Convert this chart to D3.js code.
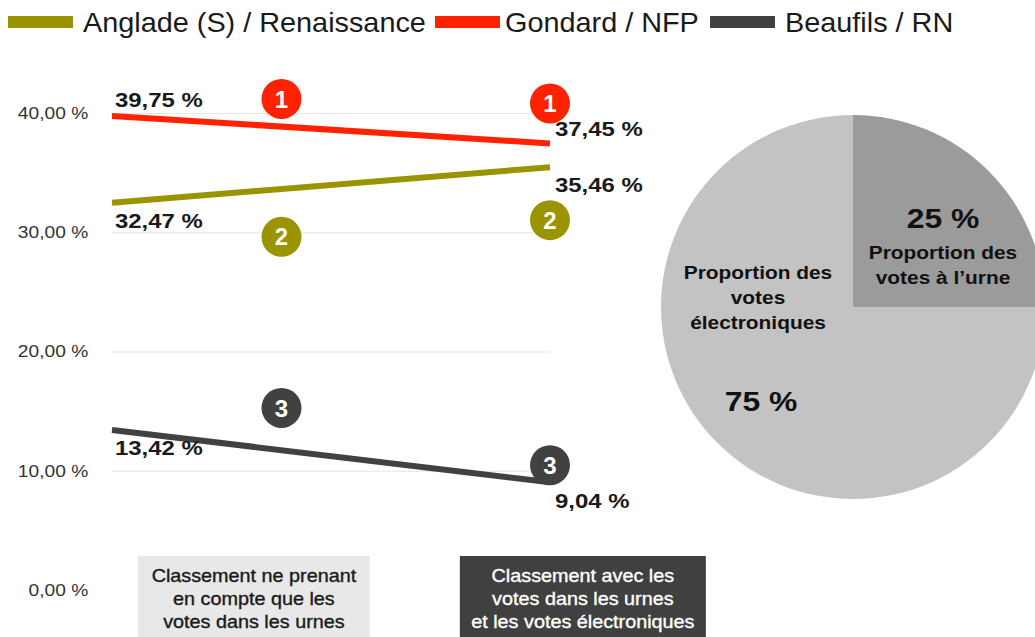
<!DOCTYPE html>
<html>
<head>
<meta charset="utf-8">
<script src="https://cdn.jsdelivr.net/npm/d3@7"></script>
<style>
  body { margin: 0; background: #fff; }
  svg { display: block; font-family: "Liberation Sans", Arial, Helvetica, sans-serif; }
</style>
</head>
<body>
<div id="container"></div>
<script>
var svgWidth = 1035;
var svgHeight = 637;

// data
var seriesNames = ['Anglade (S) / Renaissance', 'Gondard / NFP', 'Beaufils / RN'];
var urnesOnly = [32.47, 39.75, 13.42];
var urnesEtElec = [35.46, 37.45, 9.04];
var rankUrnes = [2, 1, 3];
var rankTotal = [2, 1, 3];
var columnLabels = [
    ['Classement ne prenant', 'en compte que les', 'votes dans les urnes'],
    ['Classement avec les', 'votes dans les urnes', 'et les votes électroniques']
];
var yTicks = [0, 10, 20, 30, 40];
var pieLabels = [['Proportion des', 'votes à l\u2019urne'], ['Proportion des', 'votes', 'électroniques']];
var pieValues = [25, 75];

var colors = ['#9a9400', '#ff2200', '#414141'];
var pieColors = ['#9b9b9b', '#c3c3c3'];

var svg = d3.select('#container').append('svg')
    .attr('width', svgWidth)
    .attr('height', svgHeight);

var x = d3.scaleLinear().domain([0, 1]).range([112, 550]);
var y = d3.scaleLinear().domain([0, 40]).range([590, 113]);

var frNum = function (v) { return d3.format('.2f')(v).replace('.', ',') + ' %'; };

// the source font is a bit wider than Liberation Sans, so stretch text horizontally
function label(parent, px, py, sx) {
    return parent.append('text')
        .attr('transform', 'translate(' + px + ',' + py + ') scale(' + sx + ',1)');
}

// y axis + grid
var yAxis = svg.append('g')
    .attr('transform', 'translate(' + x(0) + ',0)')
    .call(d3.axisLeft(y).tickValues(yTicks).tickFormat(frNum)
        .tickSize(-(x(1) - x(0))).tickPadding(21));
yAxis.select('.domain').remove();
yAxis.selectAll('.tick line')
    .attr('stroke', '#e6e6e6')
    .attr('stroke-width', 1.2)
    .attr('display', function (d) { return d === 0 ? 'none' : null; });
yAxis.selectAll('.tick text')
    .attr('fill', '#333')
    .attr('transform', 'scale(1.13,1)')
    .style('font-size', '17px')
    .style('font-family', '"Liberation Sans", Arial, sans-serif');

// lines
var lineData = seriesNames.map(function (name, i) {
    return { name: name, color: colors[i], values: [urnesOnly[i], urnesEtElec[i]], ranks: [rankUrnes[i], rankTotal[i]] };
});

var line = d3.line()
    .x(function (d, i) { return x(i); })
    .y(function (d) { return y(d); });

svg.append('g').selectAll('path')
    .data(lineData)
    .enter().append('path')
    .attr('d', function (d) { return line(d.values); })
    .attr('fill', 'none')
    .attr('stroke', function (d) { return d.color; })
    .attr('stroke-width', 6);

// value labels: above for the leader, below for the others
var labelOffset = [[18, 18], [-16, -15], [18, 18]];
var labelX = [3, 5];
lineData.forEach(function (s, i) {
    s.values.forEach(function (v, j) {
        label(svg, x(j) + labelX[j], y(s.values[j]) + labelOffset[i][j], 1.14)
            .attr('dy', '0.35em')
            .attr('font-size', 21)
            .attr('font-weight', 'bold')
            .attr('fill', '#1a1a1a')
            .text(frNum(v));
    });
});

// rank badges
var badgeX = [0.387, 1];
var badgeOffset = [[34, 53], [-17, -40], [-22, -17]];
lineData.forEach(function (s, i) {
    s.ranks.forEach(function (r, j) {
        var g = svg.append('g')
            .attr('transform', 'translate(' + x(badgeX[j]) + ',' + (y(s.values[j]) + badgeOffset[i][j]) + ')');
        g.append('circle').attr('r', 20).attr('fill', s.color);
        g.append('text')
            .attr('text-anchor', 'middle')
            .attr('dy', '0.36em')
            .attr('font-size', 24)
            .attr('font-weight', 'bold')
            .attr('fill', '#fff')
            .text(r);
    });
});

// column boxes
var boxCenter = [0.324, 1.075];
var boxWidth = [232, 246];
var boxFill = ['#e8e8e8', '#404040'];
var boxText = ['#1a1a1a', '#fff'];
columnLabels.forEach(function (lines, j) {
    var cx = x(boxCenter[j]);
    svg.append('rect')
        .attr('x', cx - boxWidth[j] / 2)
        .attr('y', 556)
        .attr('width', boxWidth[j])
        .attr('height', 90)
        .attr('fill', boxFill[j]);
    label(svg, cx, 582, 1.1)
        .attr('text-anchor', 'middle')
        .attr('fill', boxText[j])
        .attr('stroke', boxText[j])
        .attr('stroke-width', 0.35)
        .attr('font-size', 18)
        .selectAll('tspan')
        .data(lines)
        .enter().append('tspan')
        .attr('x', 0)
        .attr('y', function (d, k) { return k * 23; })
        .text(function (d) { return d; });
});

// legend
var legendX = [8, 435, 710];
var legendTextX = [83, 505, 785];
var legend = svg.append('g');
seriesNames.forEach(function (name, i) {
    legend.append('rect')
        .attr('x', legendX[i]).attr('y', 16)
        .attr('width', 65).attr('height', 12)
        .attr('fill', colors[i]);
    label(legend, legendTextX[i], 22, 1.03)
        .attr('dy', '0.35em')
        .attr('font-size', 28)
        .attr('fill', '#1a1a1a')
        .text(name);
});

// pie
var pieR = 192;
var pieG = svg.append('g').attr('transform', 'translate(853,307)');
var pie = d3.pie().sort(null).value(function (d) { return d; });
var arc = d3.arc().innerRadius(0).outerRadius(pieR);
var arcs = pie(pieValues);

pieG.selectAll('path')
    .data(arcs)
    .enter().append('path')
    .attr('d', arc)
    .attr('fill', function (d, i) { return pieColors[i]; });

var pctPos = [[90, -88], [-92, 95]];
var txtPos = [[90, -54], [-95, -34]];
arcs.forEach(function (a, i) {
    label(pieG, pctPos[i][0], pctPos[i][1], 1.18)
        .attr('dy', '0.35em')
        .attr('text-anchor', 'middle')
        .attr('font-size', 27)
        .attr('font-weight', 'bold')
        .attr('fill', '#111')
        .text(a.data + ' %');
    label(pieG, txtPos[i][0], txtPos[i][1] + 6, 1.16)
        .attr('text-anchor', 'middle')
        .attr('font-size', 18)
        .attr('font-weight', 'bold')
        .attr('fill', '#111')
        .selectAll('tspan')
        .data(pieLabels[i])
        .enter().append('tspan')
        .attr('x', 0)
        .attr('y', function (d, k) { return k * 25; })
        .text(function (d) { return d; });
});
</script>
</body>
</html>
